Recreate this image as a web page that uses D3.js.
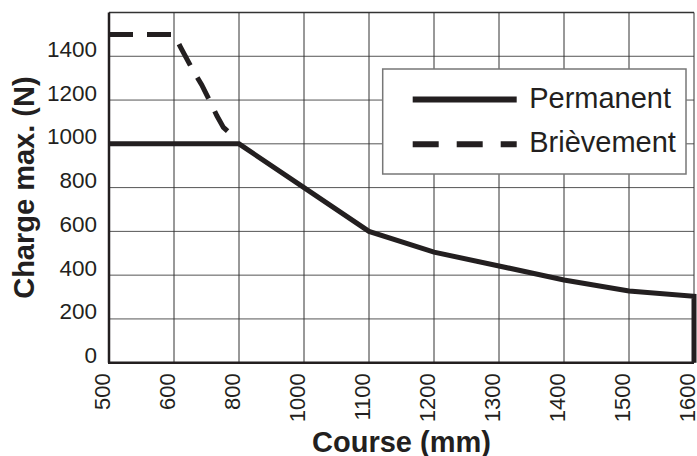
<!DOCTYPE html>
<html>
<head>
<meta charset="UTF-8" />
<title>Charge max. vs Course</title>
<script src="https://cdn.jsdelivr.net/npm/d3@7"></script>
<style>
  body { margin: 0; padding: 0; background: #fff; }
  svg { display: block; font-family: 'Liberation Sans', Arial, sans-serif; }
</style>
</head>
<body>
<div id="chart"></div>
<script>
  // Tick values (x axis is spaced evenly, not linearly)
  const xTicks = [500, 600, 800, 1000, 1100, 1200, 1300, 1400, 1500, 1600]
  const yTicks = [0, 200, 400, 600, 800, 1000, 1200, 1400]

  // Permanent load (solid line), ends with a drop to 0 at 1600 mm
  const permanentX = [500, 600, 800, 1000, 1100, 1200, 1300, 1400, 1500, 1600, 1600]
  const permanentY = [1000, 1000, 1000, 800, 600, 505, 442, 378, 328, 303, 0]

  // Short-term load (dashed line)
  const brievementX = [500, 600, 620, 655, 685, 712, 732, 752, 778]
  const brievementY = [1500, 1500, 1442, 1345, 1270, 1190, 1128, 1075, 1040]

  const seriesNames = ['Permanent', 'Brièvement']

  const width = 697
  const height = 456
  const margin = { top: 12.5, right: 3, bottom: 93.3, left: 109 }
  const ink = '#231f20'

  const svg = d3.select('#chart')
    .append('svg')
    .attr('width', width)
    .attr('height', height)

  const innerW = width - margin.left - margin.right
  const innerH = height - margin.top - margin.bottom
  const step = innerW / (xTicks.length - 1)

  // piecewise linear scale so the uneven tick values sit at equal steps
  const x = d3.scaleLinear()
    .domain(xTicks)
    .range(xTicks.map((d, i) => margin.left + i * step))

  const y = d3.scaleLinear()
    .domain([0, 1600])
    .range([margin.top + innerH, margin.top])

  // grid
  svg.append('g')
    .selectAll('line')
    .data(yTicks.slice(1))
    .join('line')
    .attr('x1', margin.left)
    .attr('x2', margin.left + innerW)
    .attr('y1', d => y(d))
    .attr('y2', d => y(d))
    .attr('stroke', '#555')
    .attr('stroke-width', 1)

  svg.append('g')
    .selectAll('line')
    .data(xTicks.slice(1))
    .join('line')
    .attr('x1', d => x(d))
    .attr('x2', d => x(d))
    .attr('y1', margin.top)
    .attr('y2', margin.top + innerH)
    .attr('stroke', '#333')
    .attr('stroke-width', 1)

  // top frame line
  svg.append('line')
    .attr('x1', margin.left)
    .attr('x2', margin.left + innerW)
    .attr('y1', margin.top)
    .attr('y2', margin.top)
    .attr('stroke', '#333')
    .attr('stroke-width', 1.5)

  // axes (left and bottom are heavier)
  const yAxis = svg.append('g')
    .attr('transform', `translate(${margin.left},0)`)
    .call(d3.axisLeft(y).tickValues(yTicks).tickFormat(d3.format('d')).tickSize(0).tickPadding(12))
  yAxis.select('.domain').attr('stroke', ink).attr('stroke-width', 2.5)
    .attr('d', `M0,${margin.top}V${margin.top + innerH}`)
  yAxis.selectAll('text')
    .attr('fill', ink)
    .attr('font-size', 22.5)
    .attr('font-family', "'Liberation Sans', Arial, sans-serif")
    .attr('dy', 0)

  const xAxis = svg.append('g')
    .attr('transform', `translate(0,${margin.top + innerH})`)
    .call(d3.axisBottom(x).tickValues(xTicks).tickFormat(d3.format('d')).tickSize(0))
  xAxis.select('.domain').attr('stroke', ink).attr('stroke-width', 2.5)
    .attr('d', `M${margin.left - 1},0H${margin.left + innerW}`)
  xAxis.selectAll('text')
    .attr('fill', ink)
    .attr('font-size', 22)
    .attr('font-family', "'Liberation Sans', Arial, sans-serif")
    .attr('text-anchor', 'end')
    .attr('dy', 0)
    .attr('y', 0)
    .attr('transform', 'translate(0,10.5) rotate(-90)')

  // lines
  const line = d3.line()
    .x(d => x(d[0]))
    .y(d => y(d[1]))

  const permanent = permanentX.map((d, i) => [d, permanentY[i]])
  const brievement = brievementX.map((d, i) => [d, brievementY[i]])

  svg.append('path')
    .datum(brievement)
    .attr('d', line)
    .attr('fill', 'none')
    .attr('stroke', ink)
    .attr('stroke-width', 5)
    .attr('stroke-dasharray', '24,14')

  svg.append('path')
    .datum(permanent)
    .attr('d', line)
    .attr('fill', 'none')
    .attr('stroke', ink)
    .attr('stroke-width', 5)
    .attr('stroke-linejoin', 'miter')

  // legend
  const legend = svg.append('g').attr('transform', 'translate(382.7,69)')
  legend.append('rect')
    .attr('width', 303.3)
    .attr('height', 105)
    .attr('fill', '#fff')
    .attr('stroke', '#777')
    .attr('stroke-width', 1.5)

  seriesNames.forEach((name, i) => {
    const row = legend.append('g').attr('transform', `translate(0,${30.5 + i * 44.7})`)
    row.append('line')
      .attr('x1', 30)
      .attr('x2', 134)
      .attr('stroke', ink)
      .attr('stroke-width', 6)
      .attr('stroke-dasharray', i === 1 ? '26,18' : null)
    row.append('text')
      .attr('x', 146.5)
      .attr('y', 8.2)
      .attr('fill', ink)
      .attr('font-size', 29)
      .text(name)
  })

  // axis titles
  svg.append('text')
    .attr('x', margin.left + innerW / 2)
    .attr('y', 451.5)
    .attr('text-anchor', 'middle')
    .attr('font-size', 29)
    .attr('font-weight', 'bold')
    .attr('fill', ink)
    .text('Course (mm)')

  svg.append('text')
    .attr('transform', `translate(33.5,${margin.top + innerH / 2}) rotate(-90)`)
    .attr('text-anchor', 'middle')
    .attr('font-size', 29)
    .attr('font-weight', 'bold')
    .attr('fill', ink)
    .text('Charge max. (N)')
</script>
</body>
</html>
